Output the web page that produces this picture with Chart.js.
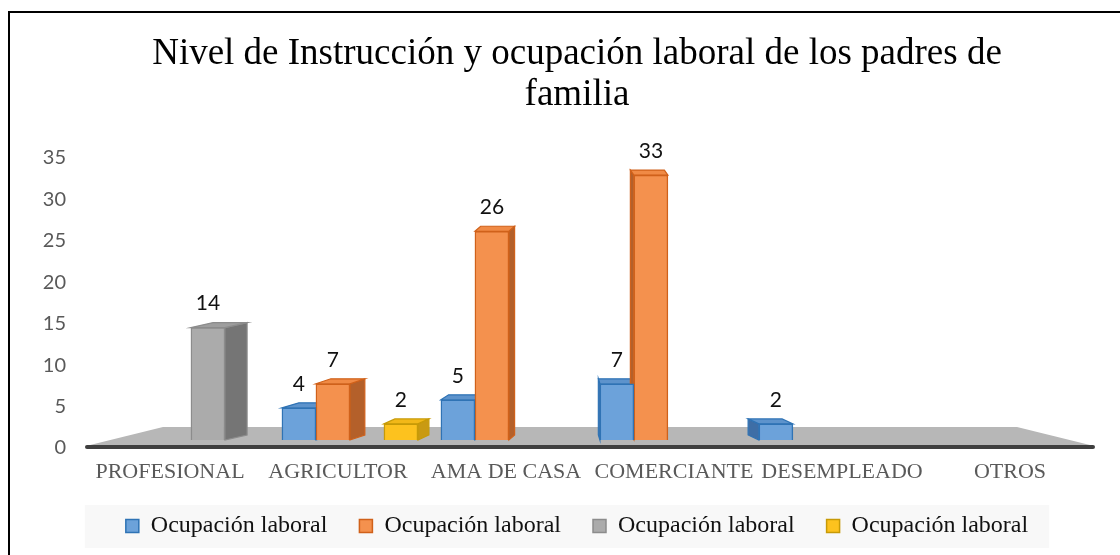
<!DOCTYPE html>
<html>
<head>
<meta charset="utf-8">
<script src="https://cdn.jsdelivr.net/npm/chart.js@4/dist/chart.umd.min.js"></script>
<style>
html,body{margin:0;padding:0;background:#fff;}
#wrap{width:1120px;height:555px;}
</style>
</head>
<body>
<div id="wrap"><canvas id="chart" width="1120" height="555"></canvas></div>
<script>
// data
const categories = ['PROFESIONAL', 'AGRICULTOR', 'AMA DE CASA', 'COMERCIANTE', 'DESEMPLEADO', 'OTROS'];
const seriesNames = ['Ocupación laboral', 'Ocupación laboral', 'Ocupación laboral', 'Ocupación laboral'];
const blueValues   = [null, 4, 5, 7, 2, null];
const orangeValues = [null, 7, 26, 33, null, null];
const grayValues   = [14, null, null, null, null, null];
const yellowValues = [null, 2, null, null, null, null];
const yTicks = [0, 5, 10, 15, 20, 25, 30, 35];
const titleLines = ['Nivel de Instrucción y ocupación laboral de los padres de', 'familia'];

// colours: front, border, side, top
const colors = [
    {front: '#6CA2DA', border: '#2F73B5', side: '#3E6EA6', top: '#5D93CC'},
    {front: '#F4914E', border: '#D0611A', side: '#B4602A', top: '#F08A45'},
    {front: '#ABABAB', border: '#8C8C8C', side: '#757575', top: '#9E9E9E'},
    {front: '#FDC21E', border: '#C79A07', side: '#C99A12', top: '#F2B818'}
];

function toPoints(values){
    // index i = category position on the hidden bar axis
    return values.map((v, i) => ({x: i, y: v})).filter(p => p.y !== null);
}

const allValues = [blueValues, orangeValues, grayValues, yellowValues];
const datasets = allValues.map((vals, i) => ({
    label: seriesNames[i],
    data: toPoints(vals),
    xAxisID: 'xb',
    yAxisID: 'yb',
    backgroundColor: colors[i].front,
    borderColor: colors[i].border,
    borderWidth: 1.5,
    barThickness: 34,
    grouped: true
}));

// white page, frame line, legend band
const framePlugin = {
    id: 'frame',
    beforeDraw(chart){
        const ctx = chart.ctx;
        ctx.save();
        ctx.fillStyle = '#fff';
        ctx.fillRect(0, 0, chart.width, chart.height);
        const boxes = chart.legend.legendHitBoxes;
        if(boxes && boxes.length){
            const first = boxes[0], last = boxes[boxes.length - 1];
            const cy = first.top + first.height / 2;
            ctx.fillStyle = '#F8F8F8';
            ctx.fillRect(first.left - 41, cy - 21, (last.left + last.width + 21) - (first.left - 41), 43);
        }
        ctx.fillStyle = '#000';
        ctx.fillRect(8, 11, 2, chart.height);
        ctx.fillRect(8, 11, chart.width, 2);
        ctx.restore();
    }
};

// floor + fake 3d side/top faces
const depthPlugin = {
    id: 'depth',
    beforeDatasetsDraw(chart){
        const ctx = chart.ctx;
        const a = chart.chartArea;
        ctx.save();
        ctx.fillStyle = '#B7B7B7';
        ctx.beginPath();
        ctx.moveTo(a.left + 77, a.bottom - 21);
        ctx.lineTo(a.right - 77, a.bottom - 21);
        ctx.lineTo(a.right, a.bottom - 2);
        ctx.lineTo(a.left, a.bottom - 2);
        ctx.closePath();
        ctx.fill();
        ctx.strokeStyle = '#3F3F3F';
        ctx.lineWidth = 4;
        ctx.lineCap = 'round';
        ctx.beginPath();
        ctx.moveTo(a.left + 1, a.bottom - 1);
        ctx.lineTo(a.right - 1, a.bottom - 1);
        ctx.stroke();

        const vx = (a.left + a.right) / 2;
        const dy = 5;
        chart.data.datasets.forEach((ds, di) => {
            const meta = chart.getDatasetMeta(di);
            const c = colors[di];
            meta.data.forEach(el => {
                const p = el.getProps(['x', 'y', 'base', 'width'], true);
                const l = p.x - p.width / 2, r = p.x + p.width / 2;
                const dx = 0.058 * (vx - p.x);
                const edge = dx > 0 ? r : l;
                ctx.lineWidth = 1.2;
                ctx.strokeStyle = c.border;
                ctx.fillStyle = c.side;
                ctx.beginPath();
                ctx.moveTo(edge, p.y);
                ctx.lineTo(edge + dx, p.y - dy);
                ctx.lineTo(edge + dx, p.base - dy);
                ctx.lineTo(edge, p.base);
                ctx.closePath();
                ctx.fill();
                ctx.stroke();
                ctx.fillStyle = c.top;
                ctx.beginPath();
                ctx.moveTo(l, p.y);
                ctx.lineTo(l + dx, p.y - dy);
                ctx.lineTo(r + dx, p.y - dy);
                ctx.lineTo(r, p.y);
                ctx.closePath();
                ctx.fill();
                ctx.stroke();
            });
        });
        ctx.restore();
    },
    afterDatasetsDraw(chart){
        const ctx = chart.ctx;
        ctx.save();
        ctx.font = '21px Lato';
        ctx.fillStyle = '#111';
        ctx.textAlign = 'center';
        ctx.textBaseline = 'middle';
        chart.data.datasets.forEach((ds, di) => {
            const meta = chart.getDatasetMeta(di);
            meta.data.forEach((el, i) => {
                const p = el.getProps(['x', 'y'], true);
                ctx.fillText(String(ds.data[i].y), p.x, p.y - 24);
            });
        });
        ctx.restore();
    }
};

new Chart(document.getElementById('chart'), {
    type: 'bar',
    data: {labels: categories, datasets: datasets},
    plugins: [framePlugin, depthPlugin],
    options: {
        responsive: false,
        animation: false,
        devicePixelRatio: 1,
        layout: {padding: {left: 40, right: 6, top: 0, bottom: 7}},
        plugins: {
            tooltip: {enabled: false},
            title: {
                display: true,
                text: titleLines,
                color: '#000',
                font: {family: 'Liberation Serif', size: 37, weight: 'normal', lineHeight: 1.097},
                padding: {top: 34, bottom: 42.8}
            },
            legend: {
                position: 'bottom',
                maxHeight: 75,
                labels: {
                    boxWidth: 13,
                    boxHeight: 13,
                    padding: 32,
                    color: '#111',
                    font: {family: 'Liberation Serif', size: 24}
                }
            }
        },
        scales: {
            x: {
                type: 'category',
                labels: categories,
                offset: true,
                grid: {display: false, drawTicks: false, tickLength: 0},
                border: {display: false},
                ticks: {
                    color: '#595959',
                    font: {family: 'Liberation Serif', size: 22},
                    maxRotation: 0,
                    autoSkip: false,
                    padding: 11
                },
                afterFit: s => { s.height = 34; }
            },
            y: {
                type: 'linear',
                position: 'left',
                min: yTicks[0],
                max: yTicks[yTicks.length - 1],
                grid: {display: false, drawTicks: false, tickLength: 0},
                border: {display: false},
                ticks: {
                    stepSize: yTicks[1] - yTicks[0],
                    color: '#595959',
                    font: {family: 'Lato', size: 20},
                    padding: 20
                },
                afterFit: s => { s.width = 46; }
            },
            // empty right axis, only keeps the plot narrower on the right
            yr: {
                type: 'linear',
                position: 'right',
                grid: {display: false},
                border: {display: false},
                ticks: {display: false},
                afterFit: s => { s.width = 20; }
            },
            // hidden axes the bars sit on (the 3d floor is narrower than the label axis)
            xb: {type: 'linear', display: false, offset: false, min: -0.66, max: 5.68},
            yb: {type: 'linear', display: false, min: -1, max: 35.13}
        }
    }
});
</script>
</body>
</html>
